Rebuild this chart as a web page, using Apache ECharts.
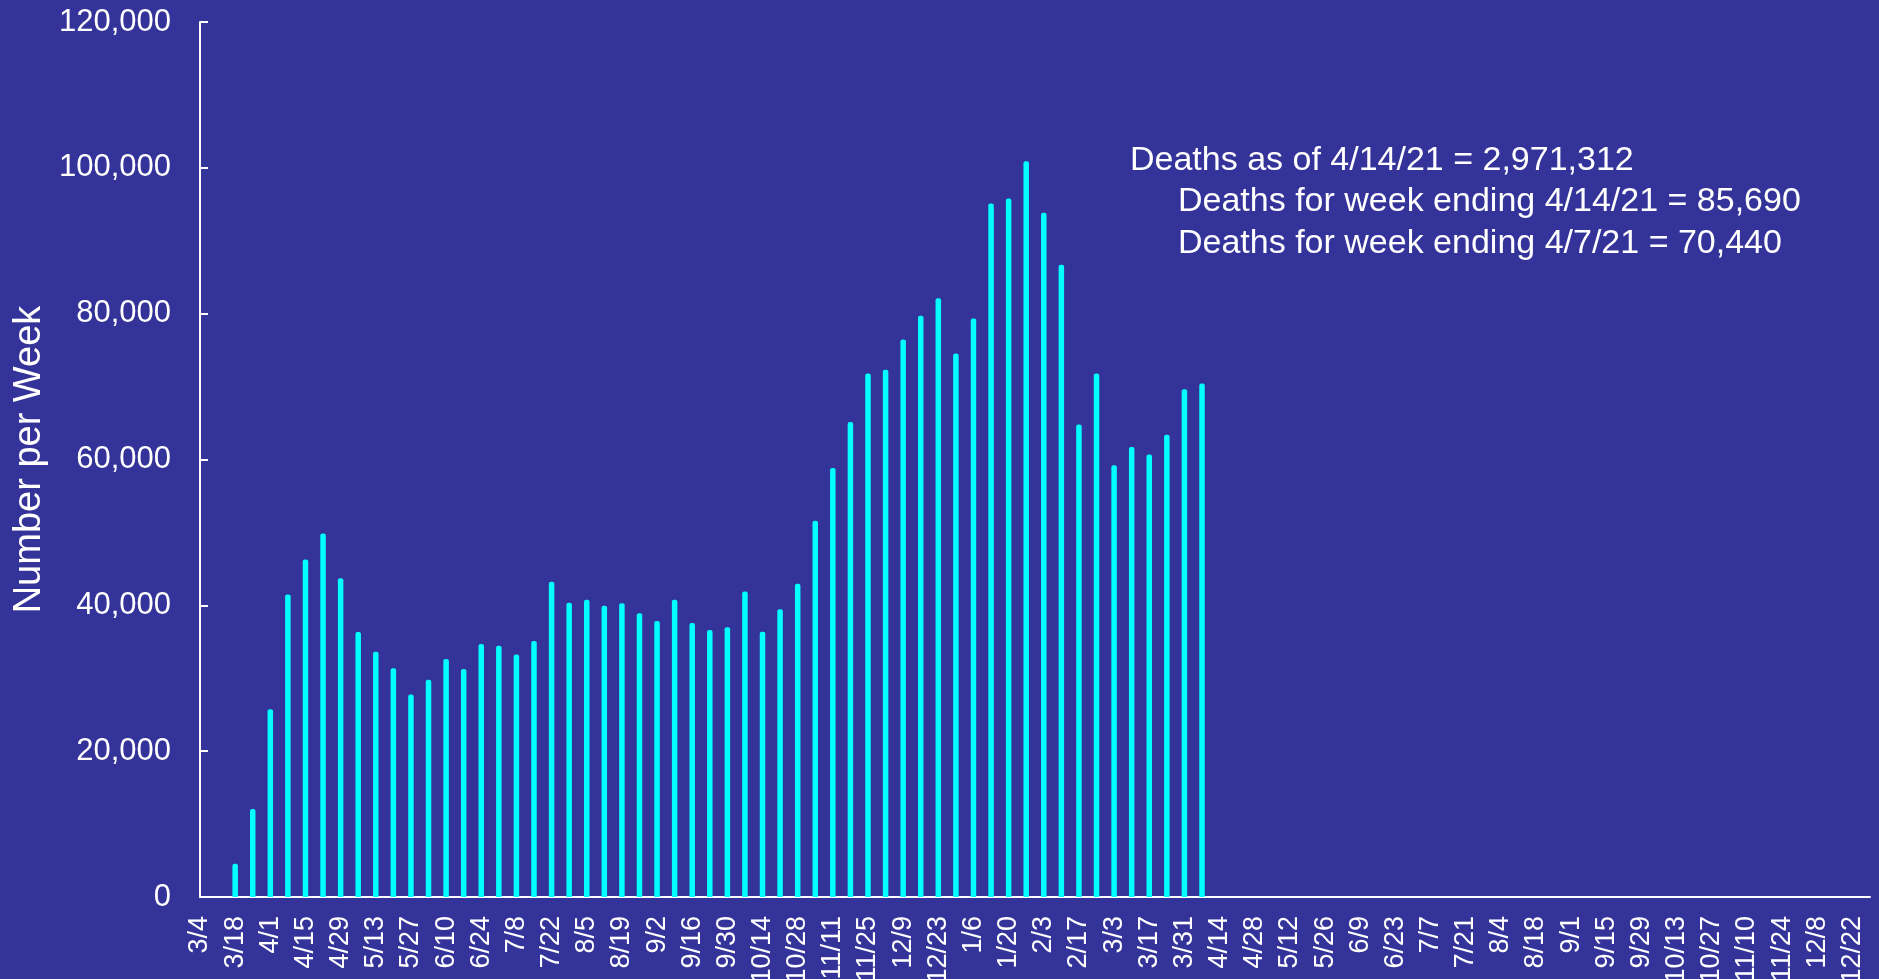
<!DOCTYPE html>
<html>
<head>
<meta charset="utf-8">
<script src="https://cdn.jsdelivr.net/npm/echarts@6/dist/echarts.min.js"></script>
<style>
html,body{margin:0;padding:0;background:#333399;}
#chart{width:1879px;height:979px;}
</style>
</head>
<body>
<div id="chart"></div>
<script>
// Week-ending dates (3/4/2020 .. 12/29/2021)
const weeks = [
  '3/4','3/11','3/18','3/25','4/1','4/8','4/15','4/22','4/29','5/6','5/13','5/20','5/27',
  '6/3','6/10','6/17','6/24','7/1','7/8','7/15','7/22','7/29','8/5','8/12','8/19','8/26',
  '9/2','9/9','9/16','9/23','9/30','10/7','10/14','10/21','10/28','11/4','11/11','11/18','11/25',
  '12/2','12/9','12/16','12/23','12/30',
  '1/6','1/13','1/20','1/27','2/3','2/10','2/17','2/24','3/3','3/10','3/17','3/24','3/31',
  '4/7','4/14','4/21','4/28','5/5','5/12','5/19','5/26','6/2','6/9','6/16','6/23','6/30',
  '7/7','7/14','7/21','7/28','8/4','8/11','8/18','8/25','9/1','9/8','9/15','9/22','9/29',
  '10/6','10/13','10/20','10/27','11/3','11/10','11/17','11/24','12/1','12/8','12/15','12/22','12/29'
];

// Deaths per week (3/4/2020 .. 4/7/2021); later weeks have no data yet
const deaths = [
  null, 0, 4550, 12080, 25760, 41500, 46300, 49850, 43700, 36350, 33650, 31380, 27780,
  29780, 32650, 31280, 34700, 34470, 33250, 35100, 43230, 40350, 40770, 39950, 40270, 38900,
  37850, 40770, 37580, 36620, 36980, 41900, 36380, 39450, 42950, 51600, 58850, 65150, 71800,
  72300, 76450, 79700, 82100, 74550,
  79350, 95100, 95800, 100900, 93850, 86700, 64800, 71800, 59200, 61700, 60700, 63400, 69650,
  70440
];

const annotationLines = [
  'Deaths as of 4/14/21 = 2,971,312',
  'Deaths for week ending 4/14/21 = 85,690',
  'Deaths for week ending 4/7/21 = 70,440'
];

const yTicks = { min: 0, max: 120000, interval: 20000 };

const seriesData = weeks.map((w, i) => (i < deaths.length ? deaths[i] : null));

const chart = echarts.init(document.getElementById('chart'), null, { renderer: 'canvas' });

const font = '"Liberation Sans", Arial, sans-serif';
const narrow = '"Liberation Sans Narrow", "Arial Narrow", "Liberation Sans", Arial, sans-serif';

chart.setOption({
  backgroundColor: '#333399',
  animation: false,
  grid: { left: 200, right: 9, top: 22, bottom: 82, containLabel: false, outerBoundsMode: 'none' },
  xAxis: {
    type: 'category',
    data: weeks,
    boundaryGap: false,
    axisLine: { show: true, lineStyle: { color: '#ffffff', width: 2 } },
    axisTick: { show: false },
    axisLabel: {
      interval: 1,
      rotate: 90,
      color: '#ffffff',
      fontFamily: narrow,
      fontSize: 27,
      margin: 19
    },
    splitLine: { show: false }
  },
  yAxis: {
    type: 'value',
    min: yTicks.min,
    max: yTicks.max,
    interval: yTicks.interval,
    name: 'Number per Week',
    nameLocation: 'middle',
    nameGap: 141,
    nameRotate: 90,
    nameTextStyle: { color: '#ffffff', fontFamily: font, fontSize: 38 },
    axisLine: { show: true, lineStyle: { color: '#ffffff', width: 2 } },
    axisTick: { show: true, inside: true, length: 8, lineStyle: { color: '#ffffff', width: 2 } },
    axisLabel: {
      color: '#ffffff',
      fontFamily: font,
      fontSize: 31,
      margin: 29,
      formatter: v => v.toLocaleString('en-US')
    },
    splitLine: { show: false }
  },
  series: [{
    type: 'bar',
    data: seriesData,
    barWidth: 5.5,
    itemStyle: { color: '#00ffff', borderRadius: [2, 2, 0, 0] }
  }],
  graphic: [
    { type: 'text', left: 1130, top: 144, style: { text: annotationLines[0], fill: '#ffffff', font: '34px ' + font } },
    { type: 'text', left: 1178, top: 185, style: { text: annotationLines[1], fill: '#ffffff', font: '34px ' + font } },
    { type: 'text', left: 1178, top: 227, style: { text: annotationLines[2], fill: '#ffffff', font: '34px ' + font } }
  ]
});
</script>
</body>
</html>
